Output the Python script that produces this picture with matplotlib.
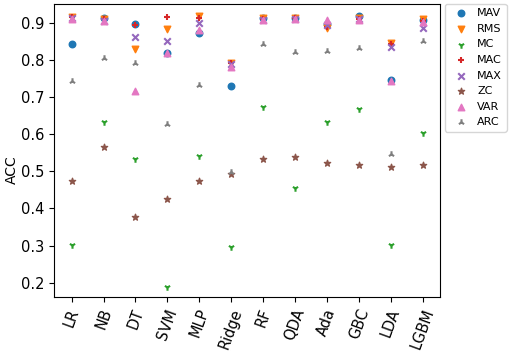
import matplotlib
matplotlib.use("Agg")
import matplotlib.pyplot as plt
import numpy as np

models = ["LR", "NB", "DT", "SVM", "MLP", "Ridge", "RF", "QDA", "Ada", "GBC", "LDA", "LGBM"]

MAV = [0.843, 0.913, 0.897, 0.818, 0.873, 0.730, 0.912, 0.914, 0.897, 0.918, 0.745, 0.907]
RMS = [0.917, 0.911, 0.829, 0.883, 0.919, 0.793, 0.913, 0.913, 0.885, 0.913, 0.845, 0.910]
MC  = [0.302, 0.634, 0.533, 0.189, 0.541, 0.297, 0.672, 0.454, 0.634, 0.668, 0.302, 0.602]
MAC = [0.915, 0.910, 0.895, 0.916, 0.914, 0.793, 0.911, 0.913, 0.890, 0.910, 0.842, 0.905]
MAX = [0.912, 0.905, 0.863, 0.850, 0.900, 0.790, 0.908, 0.910, 0.893, 0.910, 0.835, 0.887]
ZC  = [0.475, 0.566, 0.376, 0.425, 0.475, 0.494, 0.533, 0.538, 0.522, 0.517, 0.513, 0.518]
VAR = [0.910, 0.905, 0.716, 0.818, 0.882, 0.782, 0.908, 0.910, 0.908, 0.908, 0.742, 0.903]
ARC = [0.743, 0.806, 0.791, 0.627, 0.732, 0.497, 0.844, 0.821, 0.824, 0.832, 0.548, 0.851]

series = [("MAV", MAV, "o"), ("RMS", RMS, "v"), ("MC", MC, "1"), ("MAC", MAC, "+"),
          ("MAX", MAX, "x"), ("ZC", ZC, "*"), ("VAR", VAR, "^"), ("ARC", ARC, "2")]

fig = plt.figure(figsize=(5.1, 3.53), dpi=100)
ax = fig.add_axes([0.106, 0.159, 0.757, 0.830])
x = np.arange(len(models))
for i, (name, vals, m) in enumerate(series):
    ax.scatter(x, vals, marker=m, color=f"C{i}", s=22, label=name)

ax.set_xticks(x)
ax.set_xticklabels(models, rotation=70, fontsize=10.5)
ax.tick_params(axis="y", labelsize=10.5)
ax.set_yticks([0.2, 0.3, 0.4, 0.5, 0.6, 0.7, 0.8, 0.9])
ax.set_ylim(0.162, 0.951)
ax.set_ylabel("ACC", fontsize=10)
ax.yaxis.set_label_coords(-0.09, 0.433)
ax.legend(loc="upper left", bbox_to_anchor=(1.013, 1.0), fontsize=8,
          borderaxespad=0.0, handletextpad=0.5, labelspacing=0.5)
fig.savefig("out.png", dpi=100)
